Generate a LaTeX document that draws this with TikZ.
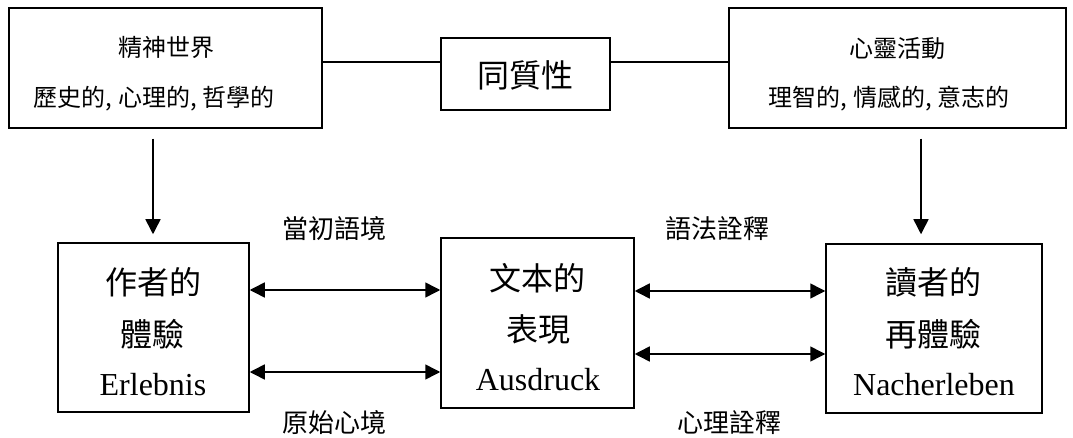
\documentclass[tikz,border=0pt]{standalone}
\usepackage{fontspec}
\setmainfont{Liberation Serif}
\newfontfamily\cjk{Noto Sans CJK TC}
\usetikzlibrary{arrows.meta}
\tikzset{
  boxnode/.style={draw, line width=1.5pt, inner sep=0pt, rectangle},
  smalltxt/.style={font=\cjk\fontsize{24pt}{28pt}\selectfont, inner sep=0pt},
  bigtxt/.style={font=\cjk\fontsize{32pt}{36pt}\selectfont, inner sep=0pt},
  latintxt/.style={font=\fontsize{32pt}{36pt}\selectfont, inner sep=0pt, anchor=base},
  lbltxt/.style={font=\cjk\fontsize{26pt}{30pt}\selectfont, inner sep=0pt},
  conn/.style={line width=1.5pt},
  arr/.style={line width=1.5pt, -{Triangle[length=15pt,width=15pt]}},
  darr/.style={line width=1.5pt, {Triangle[length=15pt,width=15pt]}-{Triangle[length=15pt,width=15pt]}}
}
\begin{document}
\begin{tikzpicture}[x=1pt,y=-1pt]
\useasboundingbox (0,0) rectangle (1073,438);
% top boxes
\node[boxnode, minimum width=313pt, minimum height=120pt] (tl) at (165.5,68) {};
\node[boxnode, minimum width=169pt, minimum height=72pt] (tm) at (525.5,74) {};
\node[boxnode, minimum width=337pt, minimum height=120pt] (tr) at (897.5,68) {};
% bottom boxes
\node[boxnode, minimum width=191pt, minimum height=169pt] (bl) at (153.5,327.5) {};
\node[boxnode, minimum width=193pt, minimum height=170pt] (bm) at (537.5,323) {};
\node[boxnode, minimum width=216pt, minimum height=169pt] (br) at (934,328.5) {};
% texts top
\node[smalltxt] (t1a) at (166,48) {精神世界};
\node[smalltxt] (t1b) at (154,99) {歷史的, 心理的, 哲學的};
\node[bigtxt] (t2) at (525.5,75) {同質性};
\node[smalltxt] (t3a) at (897,48) {心靈活動};
\node[smalltxt] (t3b) at (889,99) {理智的, 情感的, 意志的};
% texts bottom
\node[bigtxt] (b1a) at (153,282) {作者的};
\node[bigtxt] (b1b) at (152,334) {體驗};
\node[latintxt] (b1c) at (153,395) {Erlebnis};
\node[bigtxt] (b2a) at (537,278) {文本的};
\node[bigtxt] (b2b) at (538,329) {表現};
\node[latintxt] (b2c) at (538,390) {Ausdruck};
\node[bigtxt] (b3a) at (933,282) {讀者的};
\node[bigtxt] (b3b) at (933,334) {再體驗};
\node[latintxt] (b3c) at (934,395) {Nacherleben};
% labels
\node[lbltxt] (l1) at (334,229) {當初語境};
\node[lbltxt] (l2) at (334,423) {原始心境};
\node[lbltxt] (l3) at (717,229) {語法詮釋};
\node[lbltxt] (l4) at (729,423) {心理詮釋};
% top connector line
\coordinate (lineL) at ([yshift=6pt]tl.east);
\draw[conn] (lineL) -- (lineL -| tm.west);
\draw[conn] (tm.east |- lineL) -- (lineL -| tr.west);
% down arrows
\coordinate (a1s) at ([xshift=-12.5pt,yshift=-10pt]tl.south);
\coordinate (a1e) at ([yshift=8pt]bl.north);
\draw[arr] (a1s) -- (a1s |- a1e);
\coordinate (a2s) at ([xshift=23.5pt,yshift=-10pt]tr.south);
\coordinate (a2e) at ([yshift=9pt]br.north);
\draw[arr] (a2s) -- (a2s |- a2e);
% horizontal double arrows
\coordinate (h1) at ([yshift=37.5pt]bl.east);
\coordinate (h2) at ([yshift=-44.5pt]bl.east);
\draw[darr] (h1) -- (h1 -| bm.west);
\draw[darr] (h2) -- (h2 -| bm.west);
\coordinate (h3) at ([yshift=32pt]bm.east);
\coordinate (h4) at ([yshift=-31pt]bm.east);
\draw[darr] (h3) -- (h3 -| br.west);
\draw[darr] (h4) -- (h4 -| br.west);
\end{tikzpicture}
\end{document}
